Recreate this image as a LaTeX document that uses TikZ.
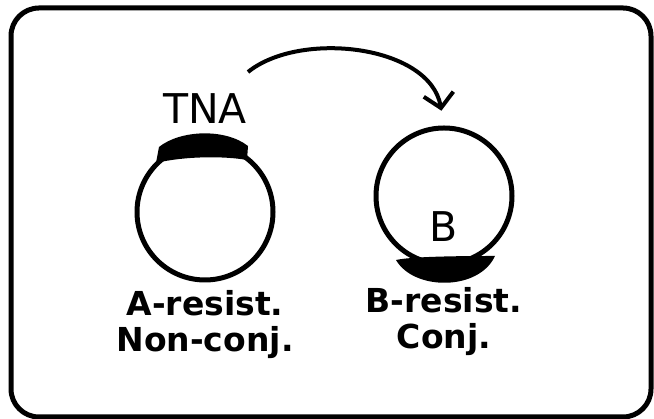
\documentclass[tikz,border=0pt]{standalone}
\usepackage{fontspec}
\setmainfont{DejaVu Sans}
\usetikzlibrary{arrows.meta,positioning}

\begin{document}
\begin{tikzpicture}[
  x=1pt,y=1pt,
  frame/.style={draw,line width=5pt,rounded corners=28pt},
  plasmid/.style={circle,draw,line width=5pt,minimum size=136pt,inner sep=0pt},
  gene/.style={inner sep=0pt,font=\fontsize{41}{44}\selectfont},
  marker/.style={inner sep=0pt,align=center,font=\bfseries\fontsize{33}{36}\selectfont},
  band/.style={fill=black},
  arrow/.style={-{Straight Barb[length=14pt,width=30pt]},line width=4pt},
]
\useasboundingbox (0,0) rectangle (654,419);
\draw[frame] (11,411) rectangle (651,2);
% the two plasmids
\node[plasmid] (pA) at (205,207) {};
\node[plasmid] (pB) at (444,223) {};
% resistance genes
\fill[band,shift={(pA.center)}] (-49,49) -- (-46,65)
  .. controls (-25,82) and (20,84) .. (43,66) -- (42,52)
  .. controls (20,56) and (-20,56) .. cycle;
\fill[band,shift={(pB.center)}] (-48,-64)
  .. controls (-30,-60) and (30,-60) .. (51,-60)
  .. controls (35,-95) and (-30,-95) .. cycle;
\node[gene, above=18pt of pA] (tna) {TNA};
\node[gene] (bgene) at ([yshift=-31pt]pB.center) {B};
\node[marker, below=8pt of pA] (resA) {A-resist.\\Non-conj.};
\node[marker, below=21pt of pB] (resB) {B-resist.\\Conj.};
% transfer
\coordinate (jump) at (248,347);
\draw[arrow,shorten >=15pt] (jump) .. controls (300,389) and (430,374) .. (pB.north);
\end{tikzpicture}
\end{document}
